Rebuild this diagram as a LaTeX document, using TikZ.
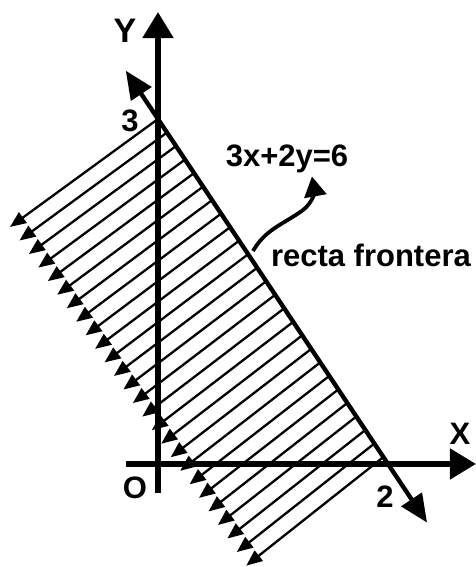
\documentclass[tikz,border=0pt]{standalone}
\usepackage{fontspec}
\setmainfont{Liberation Sans}
\usetikzlibrary{arrows.meta}

\begin{document}
\begin{tikzpicture}[
    x=57.5pt, y=57.5pt,
    axis/.style={line width=2.6pt,-{Triangle[length=13pt,width=15pt]}},
    border/.style={line width=2.2pt,{Triangle[length=14pt,width=12pt]}-{Triangle[length=14pt,width=12pt]}},
    hatch/.style={line width=1.15pt,-{Triangle[length=8pt,width=6.5pt]}},
    txt/.style={font=\bfseries\fontsize{15.5}{18}\selectfont, inner sep=0pt},
    curvearrow/.style={line width=1.9pt,-{Triangle[length=10pt,width=11pt]}}
]
    \useasboundingbox (-1.374,-0.896) rectangle (2.765,4.035);

    \foreach \i in {0,...,25}
        \draw[hatch] ({0.0784*\i},{3-0.1176*\i}) -- ({-1.287+0.0822*\i},{2.061-0.1178*\i});

    \coordinate (xstart) at (-0.278,0);
    \coordinate (xend) at (2.765,0);
    \coordinate (ystart) at (0,-0.252);
    \coordinate (yend) at (0,3.93);
    \coordinate (linetop) at (-0.28,3.42);
    \coordinate (linebottom) at (2.34,-0.51);
    \coordinate (curvestart) at (0.826,1.852);
    \coordinate (curvemid) at (1.25,2.2);
    \coordinate (curveend) at (1.339,2.5);

    \draw[axis] (xstart) -- (xend);
    \draw[axis] (ystart) -- (yend);
    \draw[border] (linetop) -- (linebottom);

    \node[txt, font=\bfseries\fontsize{17}{20}\selectfont] (ylabel) at (-0.287,3.765) {Y};
    \node[txt] (three) at (-0.243,2.983) {3};
    \node[txt] (xlabel) at (2.626,0.261) {X};
    \node[txt] (origin) at (-0.2,-0.209) {O};
    \node[txt] (two) at (1.974,-0.287) {2};
    \node[txt, anchor=base] (equation) at (1.122,2.591) {3x+2y=6};
    \node[txt, anchor=base] (frontera) at (1.852,1.713) {recta frontera};

    \draw[curvearrow] (curvestart) to[out=60,in=215] (curvemid) to[out=35,in=-80] (curveend);
\end{tikzpicture}
\end{document}
